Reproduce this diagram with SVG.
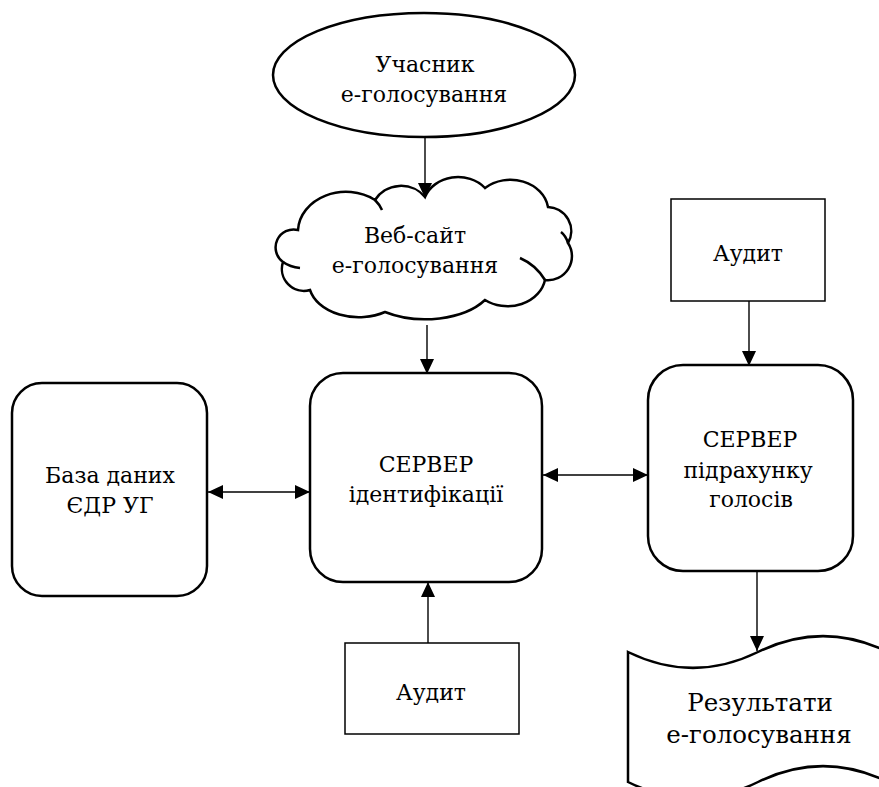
<svg xmlns="http://www.w3.org/2000/svg" width="879" height="787" viewBox="0 0 879 787">
<defs>
<style>
.node{fill:#fff;stroke:#000;stroke-width:2.5}
.box{fill:#fff;stroke:#000;stroke-width:1.5}
.hook{fill:none;stroke:#000;stroke-width:2.5}
.edge{fill:none;stroke:#000;stroke-width:1.4}
text{font-family:"DejaVu Serif",serif;font-size:22px;fill:#000;text-anchor:middle}
.big{font-size:24.5px}
</style>
<marker id="ah" markerUnits="userSpaceOnUse" markerWidth="15" markerHeight="14" refX="15" refY="7" orient="auto-start-reverse">
<path d="M0,0 L15,7 L0,14 Z" fill="#000"/>
</marker>
</defs>
<g id="connectors">
<line class="edge" x1="425" y1="137" x2="425" y2="198" marker-end="url(#ah)"/>
<line class="edge" x1="427" y1="325" x2="427" y2="374" marker-end="url(#ah)"/>
<line class="edge" x1="749" y1="301" x2="749" y2="366" marker-end="url(#ah)"/>
<line class="edge" x1="757" y1="571" x2="757" y2="651" marker-end="url(#ah)"/>
<line class="edge" x1="428" y1="643" x2="428" y2="582" marker-end="url(#ah)"/>
<line class="edge" x1="208" y1="492" x2="310" y2="492" marker-start="url(#ah)" marker-end="url(#ah)"/>
<line class="edge" x1="543" y1="475" x2="648" y2="475" marker-start="url(#ah)" marker-end="url(#ah)"/>
</g>
<g id="participant">
<ellipse class="node" cx="424" cy="75" rx="151" ry="62"/>
<text x="425" y="72">Учасник</text>
<text x="424" y="102">е-голосування</text>
</g>
<g id="website">
<path class="node" d="M298,230 A48,40 0 0 1 375,200 A30,28 0 0 1 425,197 A35,30 0 0 1 485,188 A38,32 0 0 1 548,207 A24,24 0 0 1 568,243 A24,24 0 0 1 545,280 A38,32 0 0 1 485,300 A70,40 0 0 1 385,312 A50,35 0 0 1 310,290 A22,22 0 0 1 283,262 A18,18 0 0 1 298,230 Z"/>
<path class="hook" d="M568,243 Q566,236 561,232"/>
<path class="hook" d="M545,280 Q536,265 520,258"/>
<path class="hook" d="M283,262 Q290,267 300,268"/>
<path class="hook" d="M375,200 Q380,205 382,210"/>
<text x="415" y="243">Веб-сайт</text>
<text x="415" y="273">е-голосування</text>
</g>
<g id="database">
<rect class="node" x="12" y="383" width="195" height="213" rx="30" ry="30"/>
<text x="110" y="483">База даних</text>
<text x="110" y="513">ЄДР УГ</text>
</g>
<g id="id-server">
<rect class="node" x="310" y="373" width="232" height="209" rx="33" ry="33"/>
<text x="426" y="472">СЕРВЕР</text>
<text x="426" y="502">ідентифікації</text>
</g>
<g id="count-server">
<rect class="node" x="648" y="365" width="205" height="206" rx="35" ry="35"/>
<text x="750" y="447">СЕРВЕР</text>
<text x="748" y="478">підрахунку</text>
<text x="751" y="507">голосів</text>
</g>
<g id="audit-top">
<rect class="box" x="671" y="199" width="154" height="102"/>
<text x="748" y="261">Аудит</text>
</g>
<g id="audit-bottom">
<rect class="box" x="345" y="643" width="174" height="91"/>
<text x="431" y="700">Аудит</text>
</g>
<g id="results">
<path class="node" d="M628,652 C671,673 715,673 758,652 C801,631 845,631 888,652 L888,782 C845,761 801,761 758,782 C715,803 671,803 628,782 Z"/>
<text class="big" x="760" y="711">Результати</text>
<text class="big" x="759" y="743">е-голосування</text>
</g>
</svg>
